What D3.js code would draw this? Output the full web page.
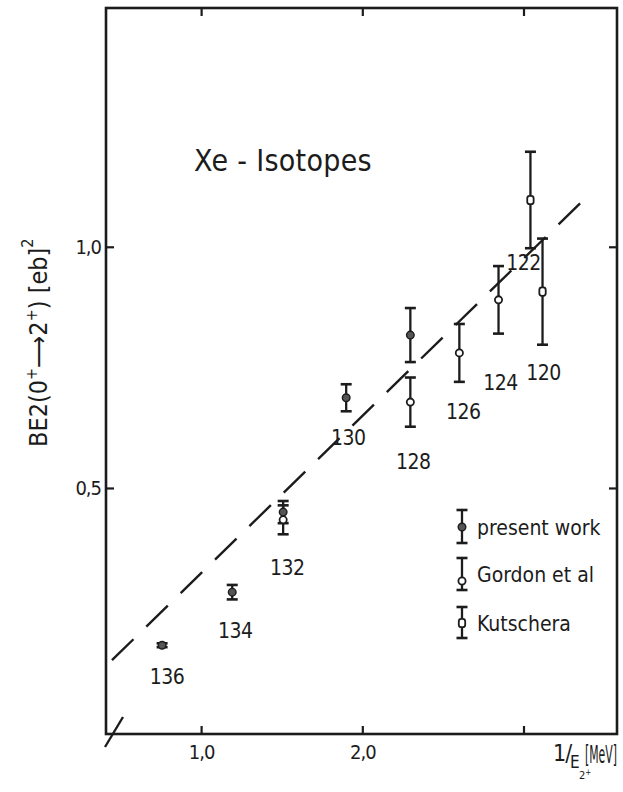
<!DOCTYPE html>
<html><head><meta charset="utf-8">
<script src="https://cdn.jsdelivr.net/npm/d3@7"></script>
<style>
html,body{margin:0;padding:0;background:#fff;}
svg{display:block;}
text{font-family:"DejaVu Sans Condensed","DejaVu Sans",sans-serif;font-stretch:condensed;fill:#1c1c1c;}
</style></head><body>
<svg id="chart" width="623" height="792"></svg>
<script>
// ---------------- DATA ----------------
const presentWorkA   = [136, 134, 132, 130, 128];
const presentWorkX   = [0.758, 1.193, 1.509, 1.900, 2.298];
const presentWorkY   = [0.174, 0.284, 0.450, 0.687, 0.817];
const presentWorkErr = [0.004, 0.015, 0.023, 0.028, 0.056];

const gordonA   = [132, 128, 126, 124];
const gordonX   = [1.509, 2.298, 2.602, 2.845];
const gordonY   = [0.434, 0.678, 0.780, 0.890];
const gordonErr = [0.030, 0.051, 0.060, 0.070];

const kutscheraA   = [122, 120];
const kutscheraX   = [3.043, 3.118];
const kutscheraY   = [1.097, 0.907];
const kutscheraErr = [0.100, 0.110];

const fitLineX = [0.447, 3.373];
const fitLineY = [0.143, 1.097];

const xTicks = [1, 2, 3];
const xTickLabels = ["1,0", "2,0", ""];
const yTicks = [0.5, 1.0];
const yTickLabels = ["0,5", "1,0"];

const legendLabels = ["present work", "Gordon et al", "Kutschera"];
const titleText = "Xe - Isotopes";

// ---------------- LAYOUT (pixels, styles) ----------------
const W = 623, H = 792;
const margin = {left: 106, top: 8, right: 6, bottom: 58};
const ink = "#1c1c1c";
// label offsets of mass-number labels relative to anchor marker
const labelOffset = {136:[5,32],134:[3,39],132:[4,48],130:[2,40],128:[3,60],126:[4,59],124:[2,83],122:[-7,63],120:[1,81]};

const svg = d3.select("#chart");
const x = d3.scaleLinear().domain([0.41, 3.58]).range([margin.left, W - margin.right]);
const y = d3.scaleLinear().domain([-0.01, 1.495]).range([H - margin.bottom, margin.top]);

const zip = (A, X, Y, E) => A.map((a, i) => ({A: a, x: X[i], y: Y[i], e: E[i]}));
const present = zip(presentWorkA, presentWorkX, presentWorkY, presentWorkErr);
const gordon = zip(gordonA, gordonX, gordonY, gordonErr);
const kutschera = zip(kutscheraA, kutscheraX, kutscheraY, kutscheraErr);

// frame
svg.append("rect")
  .attr("x", x.range()[0]).attr("y", y.range()[1])
  .attr("width", x.range()[1] - x.range()[0])
  .attr("height", y.range()[0] - y.range()[1])
  .attr("fill", "none").attr("stroke", ink).attr("stroke-width", 2.6);

// axes
const gB = svg.append("g").attr("transform", `translate(0,${y.range()[0]})`)
  .call(d3.axisBottom(x).tickValues(xTicks).tickSizeInner(-8).tickSizeOuter(0).tickPadding(11)
    .tickFormat((d, i) => xTickLabels[i]));
const gL = svg.append("g").attr("transform", `translate(${x.range()[0]},0)`)
  .call(d3.axisLeft(y).tickValues(yTicks).tickSizeInner(-8).tickSizeOuter(0).tickPadding(5)
    .tickFormat((d, i) => yTickLabels[i]));
const gT = svg.append("g").attr("transform", `translate(0,${y.range()[1]})`)
  .call(d3.axisTop(x).tickValues(xTicks).tickSizeInner(-8).tickSizeOuter(0).tickFormat(""));
const gR = svg.append("g").attr("transform", `translate(${x.range()[1]},0)`)
  .call(d3.axisRight(y).tickValues(yTicks).tickSizeInner(-8).tickSizeOuter(0).tickFormat(""));
[gB, gL, gT, gR].forEach(g => {
  g.select(".domain").remove();
  g.selectAll(".tick line").attr("stroke", ink).attr("stroke-width", 2.2);
  g.selectAll(".tick text").attr("fill", ink).attr("font-size", 20)
    .attr("font-family", '"DejaVu Sans Condensed","DejaVu Sans",sans-serif').attr("letter-spacing", -1);
});

// axis break slash at bottom-left corner
svg.append("line")
  .attr("x1", x.range()[0] - 1).attr("y1", y.range()[0] + 13)
  .attr("x2", x.range()[0] + 17).attr("y2", y.range()[0] - 17)
  .attr("stroke", ink).attr("stroke-width", 2.4);

// dashed fit line
svg.append("line")
  .attr("x1", x(fitLineX[0])).attr("y1", y(fitLineY[0]))
  .attr("x2", x(fitLineX[1])).attr("y2", y(fitLineY[1]))
  .attr("stroke", ink).attr("stroke-width", 2.4).attr("stroke-dasharray", "30 18");

// error bars
function errBars(data, cls) {
  const g = svg.append("g").attr("class", cls);
  const cw = 5.5;
  data.forEach(d => {
    const cx = x(d.x), y1 = y(d.y + d.e), y2 = y(d.y - d.e);
    g.append("line").attr("x1", cx).attr("x2", cx).attr("y1", y1).attr("y2", y2)
      .attr("stroke", ink).attr("stroke-width", 2.3);
    [y1, y2].forEach(yy => g.append("line").attr("x1", cx - cw).attr("x2", cx + cw)
      .attr("y1", yy).attr("y2", yy).attr("stroke", ink).attr("stroke-width", 2.6));
  });
  return g;
}
errBars(present, "present");
errBars(gordon, "gordon");
errBars(kutschera, "kutschera");

function filledMarker(g, cx, cy) {
  g.append("circle").attr("cx", cx).attr("cy", cy).attr("r", 3.8)
    .attr("fill", "#555").attr("stroke", ink).attr("stroke-width", 1.4);
}
function openMarker(g, cx, cy) {
  g.append("circle").attr("cx", cx).attr("cy", cy).attr("r", 3.6)
    .attr("fill", "#fff").attr("stroke", ink).attr("stroke-width", 1.8);
}
function squareMarker(g, cx, cy) {
  g.append("rect").attr("x", cx - 3.2).attr("y", cy - 4.2).attr("width", 6.4).attr("height", 8.4)
    .attr("rx", 2.5).attr("fill", "#fff").attr("stroke", ink).attr("stroke-width", 1.8);
}
const gm = svg.append("g");
present.forEach(d => filledMarker(gm, x(d.x), y(d.y)));
gordon.forEach(d => openMarker(gm, x(d.x), y(d.y)));
kutschera.forEach(d => squareMarker(gm, x(d.x), y(d.y)));

// mass-number labels
const anchors = {};
present.forEach(d => anchors[d.A] = d);
gordon.forEach(d => anchors[d.A] = d);
kutschera.forEach(d => anchors[d.A] = d);
svg.append("g").selectAll("text").data(Object.values(anchors)).join("text")
  .attr("x", d => x(d.x) + labelOffset[d.A][0])
  .attr("y", d => y(d.y) + labelOffset[d.A][1])
  .attr("text-anchor", "middle").attr("dominant-baseline", "central")
  .attr("font-size", 21).attr("letter-spacing", -0.5)
  .text(d => d.A);

// title
svg.append("text").attr("x", 194).attr("y", 171).attr("font-size", 30)
  .attr("letter-spacing", 0.3).text(titleText);

// legend
const legendRows = [
  {top: 510, bottom: 543, mark: 527, draw: filledMarker},
  {top: 558, bottom: 590, mark: 581, draw: openMarker},
  {top: 607, bottom: 638, mark: 623, draw: squareMarker}
];
const lg = svg.append("g");
legendRows.forEach((r, i) => {
  const lx = 462;
  lg.append("line").attr("x1", lx).attr("x2", lx).attr("y1", r.top).attr("y2", r.bottom)
    .attr("stroke", ink).attr("stroke-width", 2.3);
  [r.top, r.bottom].forEach(yy => lg.append("line").attr("x1", lx - 5.5).attr("x2", lx + 5.5)
    .attr("y1", yy).attr("y2", yy).attr("stroke", ink).attr("stroke-width", 2.6));
  r.draw(lg, lx, r.mark);
  lg.append("text").attr("x", 477).attr("y", (r.top + r.bottom) / 2 + 1)
    .attr("dominant-baseline", "central").attr("font-size", 21).text(legendLabels[i]);
});

// y-axis title
const yt = svg.append("text").attr("transform", "translate(47,447) rotate(-90)")
  .attr("font-size", 25);
yt.append("tspan").text("BE2(0");
yt.append("tspan").attr("dy", -10).attr("font-size", 16).text("+");
yt.append("tspan").attr("dy", 10).text("⟶2");
yt.append("tspan").attr("dy", -10).attr("font-size", 16).text("+");
yt.append("tspan").attr("dy", 10).text(")  [eb]");
yt.append("tspan").attr("dy", -14).attr("font-size", 16).text("2");

// x-axis title: 1/E_{2+} [MeV]
const xg = svg.append("g");
xg.append("text").attr("x", 553).attr("y", 761).attr("font-size", 23).attr("letter-spacing", -1).text("1/");
xg.append("text").attr("x", 570).attr("y", 768).attr("font-size", 17).text("E");
const sub = xg.append("text").attr("x", 579).attr("y", 779).attr("font-size", 11);
sub.append("tspan").text("2");
sub.append("tspan").attr("dy", -4).attr("font-size", 8).text("+");
const mev = xg.append("text").attr("font-size", 25).text("[MeV]");
const mevLen = mev.node().getComputedTextLength() || 60;
const sx = 32 / mevLen;
mev.attr("transform", `translate(585,763) scale(${sx},1)`);
</script>
</body></html>
